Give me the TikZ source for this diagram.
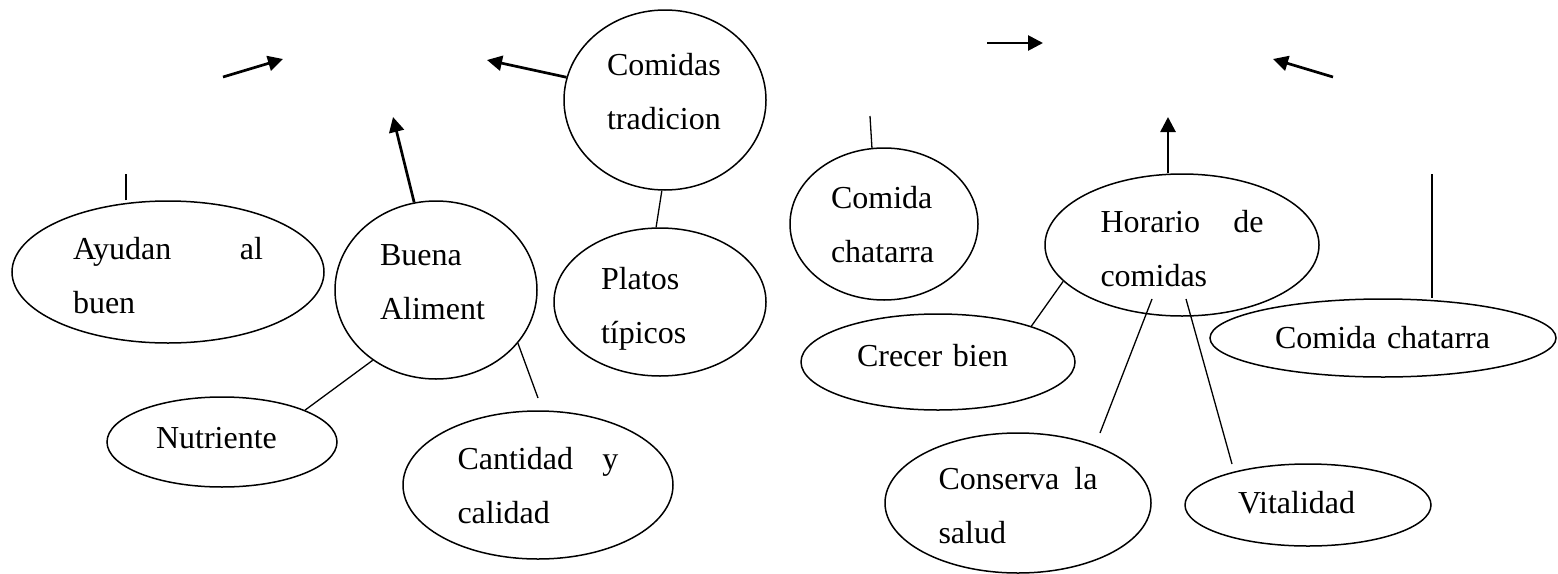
\documentclass[tikz,border=0pt]{standalone}
\usepackage{fontspec}
\setmainfont{Liberation Serif}
\usetikzlibrary{arrows.meta, shapes.geometric}
\tikzset{
    globo/.style={ellipse, draw, line width=1.5pt, inner sep=0pt, align=left, text height=22pt, font=\fontsize{32}{54}\selectfont}, % cada burbuja del mapa
}
\tikzstyle{flecha} = [line width=2.7pt, -{Triangle[length=15pt,width=15pt]}]
\tikzstyle{linea} = [line width=1.3pt]

\begin{document}
\begin{tikzpicture}[x=1pt, y=-1pt]
    \useasboundingbox (0,0) rectangle (1558,573);
    % Burbujas
    \node[globo, minimum width=312pt, minimum height=142pt, text width=190pt, text depth=48pt] (ayudan) at (168,272) {Ayudan\hfill al\\buen};
    \node[globo, minimum width=202pt, minimum height=178pt, text width=112pt, text depth=72pt] (buena) at (436,290) {Buena\\Aliment};
    \node[globo, minimum width=202pt, minimum height=180pt, text width=116pt, text depth=72pt] (comidas) at (665,100) {Comidas\\tradicion};
    \node[globo, minimum width=212pt, minimum height=148pt, text width=118pt, text depth=48pt] (platos) at (660,302) {Platos\\típicos};
    \node[globo, minimum width=230pt, minimum height=90pt, text width=132pt, text depth=10pt] (nutriente) at (222,442) {Nutriente};
    \node[globo, minimum width=270pt, minimum height=148pt, text width=161pt, text depth=54pt] (cantidad) at (538,485) {Cantidad\hfill y\\calidad};
    \node[globo, minimum width=188pt, minimum height=152pt, text width=106pt, text depth=54pt] (chatarra) at (884,224) {Comida\\chatarra};
    \node[globo, minimum width=274pt, minimum height=142pt, text width=163pt, text depth=48pt] (horario) at (1182,245) {Horario\hfill de\\comidas};
    \node[globo, minimum width=274pt, minimum height=96pt, text width=162pt, text depth=14pt] (crecer) at (938,362) {Crecer bien};
    \node[globo, minimum width=346pt, minimum height=78pt, text width=216pt, text depth=2pt] (chatarrab) at (1383,338) {Comida chatarra};
    \node[globo, minimum width=266pt, minimum height=140pt, text width=159pt, text depth=50pt] (conserva) at (1018,503) {Conserva\hfill la\\salud};
    \node[globo, minimum width=246pt, minimum height=82pt, text width=140pt, text depth=6pt] (vitalidad) at (1308,505) {Vitalidad};

    % Extremos sueltos
    \coordinate (a1s) at (223,77);
    \coordinate (a1e) at (283,59);
    \coordinate (a2e) at (487,60);
    \coordinate (a3e) at (393,117);
    \coordinate (a4s) at (987,43);
    \coordinate (a4e) at (1043,43);
    \coordinate (a5s) at (1333,77);
    \coordinate (a5e) at (1273,59);
    \coordinate (a6e) at (1168,117);
    \coordinate (l1e) at (126,174);
    \coordinate (l3e) at (538,398);
    \coordinate (l5e) at (870,116);
    \coordinate (l7s) at (1152,299);
    \coordinate (l7e) at (1100,433);
    \coordinate (l8s) at (1186,299);
    \coordinate (l8e) at (1232,464);
    \coordinate (l9s) at (1432,174);

    % Flechas
    \draw[flecha] (a1s) -- (a1e);
    \draw[flecha] (comidas.167) -- (a2e);
    \draw[flecha] (buena.104) -- (a3e);
    \draw[flecha] (a4s) -- (a4e);
    \draw[flecha] (a5s) -- (a5e);
    \draw[flecha] (horario.north -| a6e) -- (a6e);

    % Lineas
    \draw[linea] (ayudan.north -| l1e) -- (l1e);
    \draw[linea] (buena.228) -- (nutriente.21);
    \draw[linea] (buena.-33) -- (l3e);
    \draw[linea] (comidas.-92) -- (platos.93);
    \draw[linea] (chatarra.99) -- (l5e);
    \draw[linea] (horario.197) -- (crecer.21);
    \draw[linea] (l7s) -- (l7e);
    \draw[linea] (l8s) -- (l8e);
    \draw[linea] (l9s) -- (chatarrab.north -| l9s);
\end{tikzpicture}
\end{document}
